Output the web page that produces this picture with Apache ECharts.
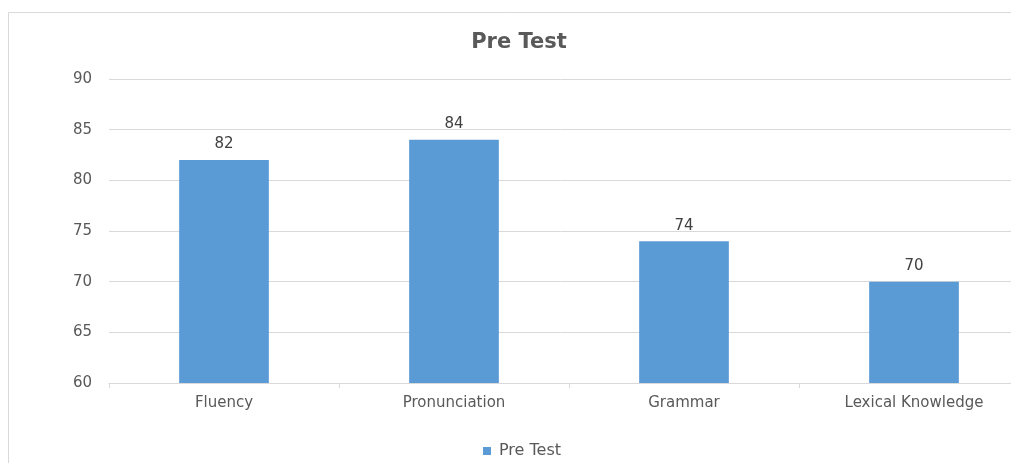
<!DOCTYPE html>
<html>
<head>
<meta charset="utf-8">
<script src="https://cdn.jsdelivr.net/npm/echarts@6/dist/echarts.min.js"></script>
<style>
  html, body { margin: 0; padding: 0; background: #fff; }
  #chart { width: 1011px; height: 463px; }
</style>
</head>
<body>
<div id="chart"></div>
<script>
// data
const categories = ["Fluency", "Pronunciation", "Grammar", "Lexical Knowledge"];
const preTest = [82, 84, 74, 70];

const font = "DejaVu Sans";
const chart = echarts.init(document.getElementById("chart"));

const option = {
  animation: false,
  // light card border, cropped at right and bottom
  graphic: [
    {
      type: "rect",
      shape: { x: 8.5, y: 12.5, width: 1100, height: 500 },
      style: { fill: "none", stroke: "#d9d9d9", lineWidth: 1 },
      silent: true
    }
  ],
  title: {
    text: "Pre Test",
    left: 514,
    textAlign: "center",
    top: 27,
    textStyle: { fontFamily: font, fontSize: 21, fontWeight: "bold", color: "#595959" }
  },
  legend: {
    data: ["Pre Test"],
    top: 438,
    left: 478,
    icon: "rect",
    itemWidth: 8,
    itemHeight: 8,
    itemGap: 8,
    textStyle: { fontFamily: font, fontSize: 16, color: "#595959", padding: [0, 0, 0, 3] }
  },
  // plot runs past the right edge of the picture
  grid: { left: 109, width: 920, top: 79, bottom: 80, outerBoundsMode: "none", containLabel: false },
  xAxis: {
    type: "category",
    data: categories,
    axisLine: { lineStyle: { color: "#d9d9d9" } },
    axisTick: { show: true, length: 5, lineStyle: { color: "#d9d9d9" } },
    axisLabel: { fontFamily: font, fontSize: 15, color: "#595959", margin: 13 }
  },
  yAxis: {
    type: "value",
    min: 60,
    max: 90,
    interval: 5,
    axisLine: { show: false },
    axisTick: { show: false },
    splitLine: { lineStyle: { color: "#d9d9d9" } },
    axisLabel: { fontFamily: font, fontSize: 15, color: "#595959", margin: 17 }
  },
  series: [
    {
      name: "Pre Test",
      type: "bar",
      data: preTest,
      barWidth: "39%",
      itemStyle: { color: "#5b9bd5" },
      label: {
        show: true,
        position: "top",
        distance: 8,
        fontFamily: font,
        fontSize: 15,
        color: "#404040"
      }
    }
  ]
};

chart.setOption(option);
</script>
</body>
</html>
